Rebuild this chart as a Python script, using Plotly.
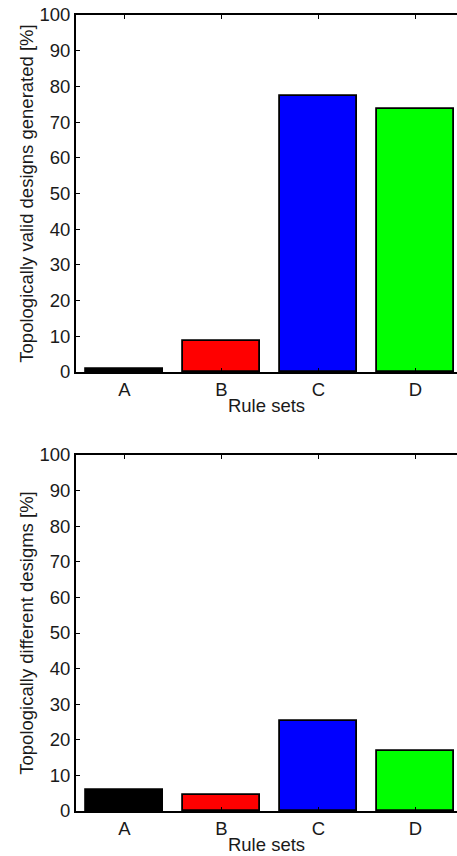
import plotly.graph_objects as go

categories = ["A", "B", "C", "D"]
valid_pct = [0.8, 8.7, 77.4, 73.7]
different_pct = [5.8, 4.6, 25.4, 16.8]
bar_colors = ["#000000", "#ff0000", "#0000ff", "#00ff00"]
y_ticks = [0, 10, 20, 30, 40, 50, 60, 70, 80, 90, 100]

W, H = 457, 856
FAM = "Liberation Sans, Arial, sans-serif"
TICKFONT = dict(family=FAM, size=18.5, color="#1a1a1a")
TITLEFONT = dict(family=FAM, size=18.5, color="#1a1a1a")

def py(px):
    return 1 - px / H

x_pos = [1, 2, 3, 4]

fig = go.Figure()
fig.add_trace(go.Bar(x=x_pos, y=valid_pct, width=0.8,
                     marker=dict(color=bar_colors, line=dict(color="black", width=1.8)),
                     xaxis="x", yaxis="y", showlegend=False))
fig.add_trace(go.Bar(x=x_pos, y=different_pct, width=0.8,
                     marker=dict(color=bar_colors, line=dict(color="black", width=1.8)),
                     xaxis="x2", yaxis="y2", showlegend=False))

xr = [0.5, 0.5 + (W - 76) / 97.0]

def xaxis(anchor):
    return dict(domain=[76 / W, 1.0], range=xr, anchor=anchor, automargin=False,
                tickmode="array", tickvals=x_pos, ticktext=categories,
                ticks="inside", ticklen=4, tickwidth=1.2, tickcolor="black",
                showline=True, linecolor="black", linewidth=1.8, mirror="ticks",
                showgrid=False, zeroline=False, tickfont=TICKFONT,
                title=dict(text="Rule sets", font=TITLEFONT, standoff=0))

def yaxis(anchor, dom, title):
    return dict(domain=dom, range=[0, 100], anchor=anchor, automargin=False,
                tickmode="array", tickvals=y_ticks,
                ticks="inside", ticklen=4, tickwidth=1.2, tickcolor="black",
                showline=True, linecolor="black", linewidth=1.8, mirror=False,
                showgrid=False, zeroline=False, tickfont=TICKFONT,
                title=dict(text=title, font=TITLEFONT, standoff=1))

fig.update_layout(
    width=W, height=H,
    margin=dict(l=0, r=0, t=0, b=0),
    paper_bgcolor="white", plot_bgcolor="white",
    xaxis=xaxis("y"),
    yaxis=yaxis("x", [py(372), py(15)], "Topologically valid designs generated [%]"),
    xaxis2=xaxis("y2"),
    yaxis2=yaxis("x2", [py(811), py(455)], "Topologically different desigms [%]"),
    bargap=0,
)

fig.write_html("out.html", config={"displayModeBar": False},
               post_script="document.body.style.margin='0';document.body.style.overflow='hidden';")
